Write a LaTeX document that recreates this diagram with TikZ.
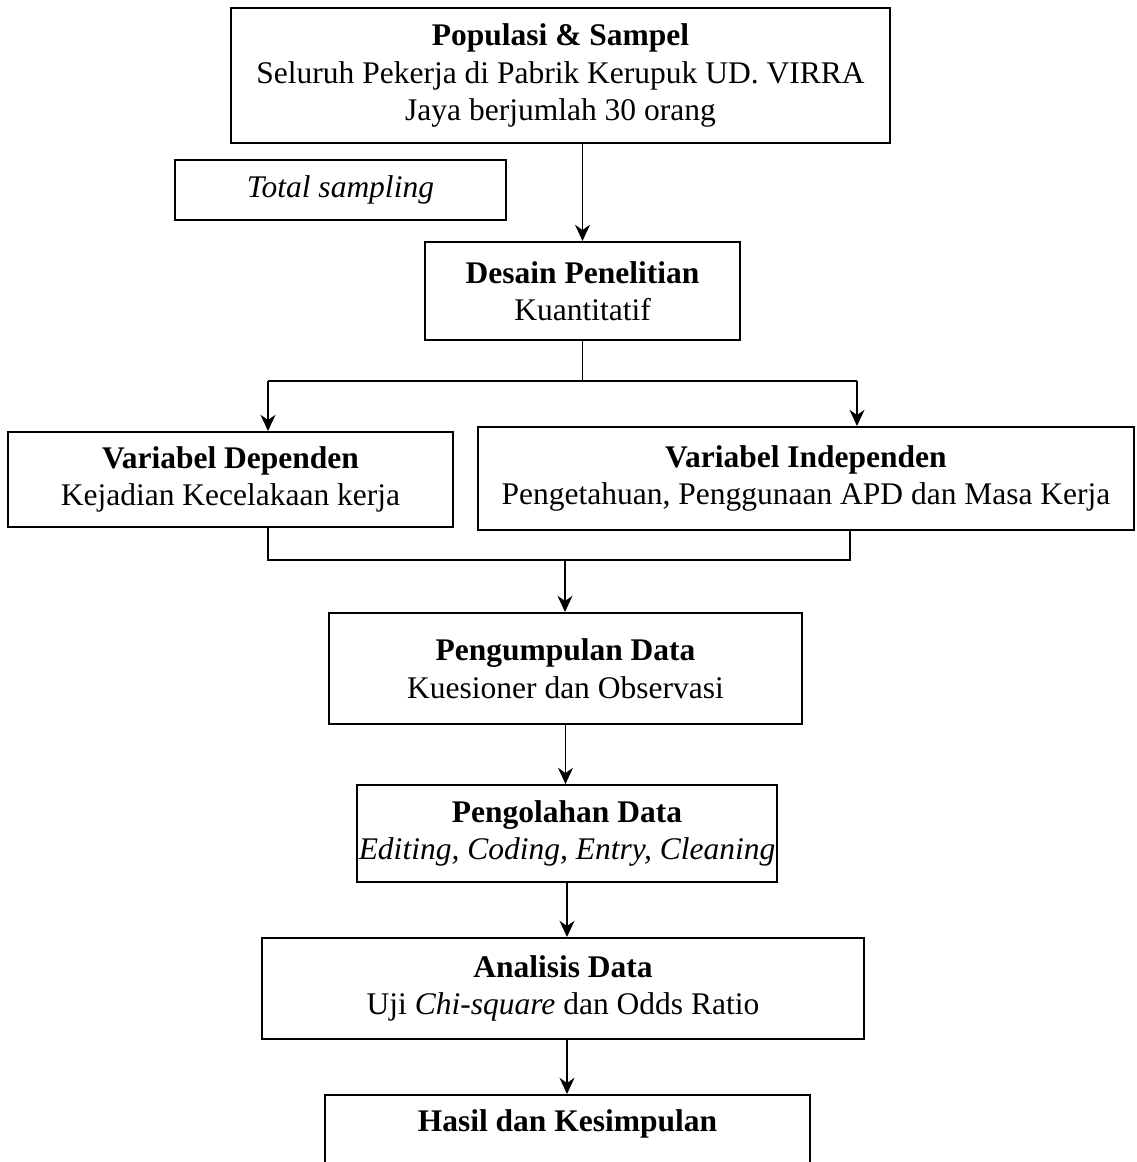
\documentclass[tikz,border=0pt]{standalone}
\usepackage{fontspec}
\setmainfont{Liberation Serif}
\usetikzlibrary{arrows.meta}
\tikzset{>=Stealth}

\begin{document}
\begin{tikzpicture}[x=0.4pt,y=-0.4pt,
    box/.style={draw,line width=0.8pt,align=center,inner sep=0pt,
      font=\fontsize{12.6}{15}\selectfont},
    link/.style={line width=0.5pt},
    arr/.style={link,->,>={Stealth[length=6.5pt,width=6pt]}}]
  \useasboundingbox (0,0) rectangle (1137,1162);
  \clip (0,0) rectangle (1137,1162);

  % boxes
  \node[box,minimum width=263.6pt,minimum height=54pt] (pop) at (560.5,75.5)
    {\textbf{Populasi \& Sampel}\\Seluruh Pekerja di Pabrik Kerupuk UD. VIRRA\\Jaya berjumlah 30 orang};
  \node[box,minimum width=132.4pt,minimum height=24pt] (teknik) at (340.5,190)
    {\textit{Total sampling}};
  \node[box,minimum width=126pt,minimum height=39.2pt] (desain) at (582.5,291)
    {\textbf{Desain Penelitian}\\Kuantitatif};
  \node[box,minimum width=178pt,minimum height=38pt] (dep) at (230.5,479.5)
    {\textbf{Variabel Dependen}\\Kejadian Kecelakaan kerja};
  \node[box,minimum width=262.4pt,minimum height=41.2pt] (indep) at (806,478.5)
    {\textbf{Variabel Independen}\\Pengetahuan, Penggunaan APD dan Masa Kerja};
  \node[box,minimum width=189.2pt,minimum height=44.4pt] (kumpul) at (565.5,668.5)
    {\textbf{Pengumpulan Data}\\Kuesioner dan Observasi};
  \node[box,minimum width=168pt,minimum height=38.8pt] (olah) at (567,833.5)
    {\textbf{Pengolahan Data}\\\textit{Editing, Coding, Entry, Cleaning}};
  \node[box,minimum width=240.8pt,minimum height=40.4pt] (analisis) at (563,988.5)
    {\textbf{Analisis Data}\\Uji \textit{Chi-square} dan Odds Ratio};
  \node[box,minimum width=194pt,minimum height=40pt] (hasil) at (567.5,1145)
    {\textbf{Hasil dan Kesimpulan}\\\strut};

  % branch points
  \coordinate (sl) at (268,381);
  \coordinate (sr) at (857,381);
  \coordinate (ml) at (268,560);
  \coordinate (mr) at (850,560);
  \coordinate (mm) at (565,560);

  % connectors
  \draw[arr] (desain.north |- pop.south) -- (desain.north);
  \draw[link] (desain.south) -- (desain.south |- sl);
  \draw[link] (sl) -- (sr);
  \draw[arr] (sl) -- (sl |- dep.north);
  \draw[arr] (sr) -- (sr |- indep.north);
  \draw[link] (ml |- dep.south) -- (ml) -- (mr) -- (mr |- indep.south);
  \draw[arr] (mm) -- (mm |- kumpul.north);
  \draw[arr] (kumpul.south) -- (kumpul.south |- olah.north);
  \draw[arr] (olah.south) -- (olah.south |- analisis.north);
  \draw[arr] (analisis.south -| olah.south) -- (olah.south |- hasil.north);
\end{tikzpicture}
\end{document}
